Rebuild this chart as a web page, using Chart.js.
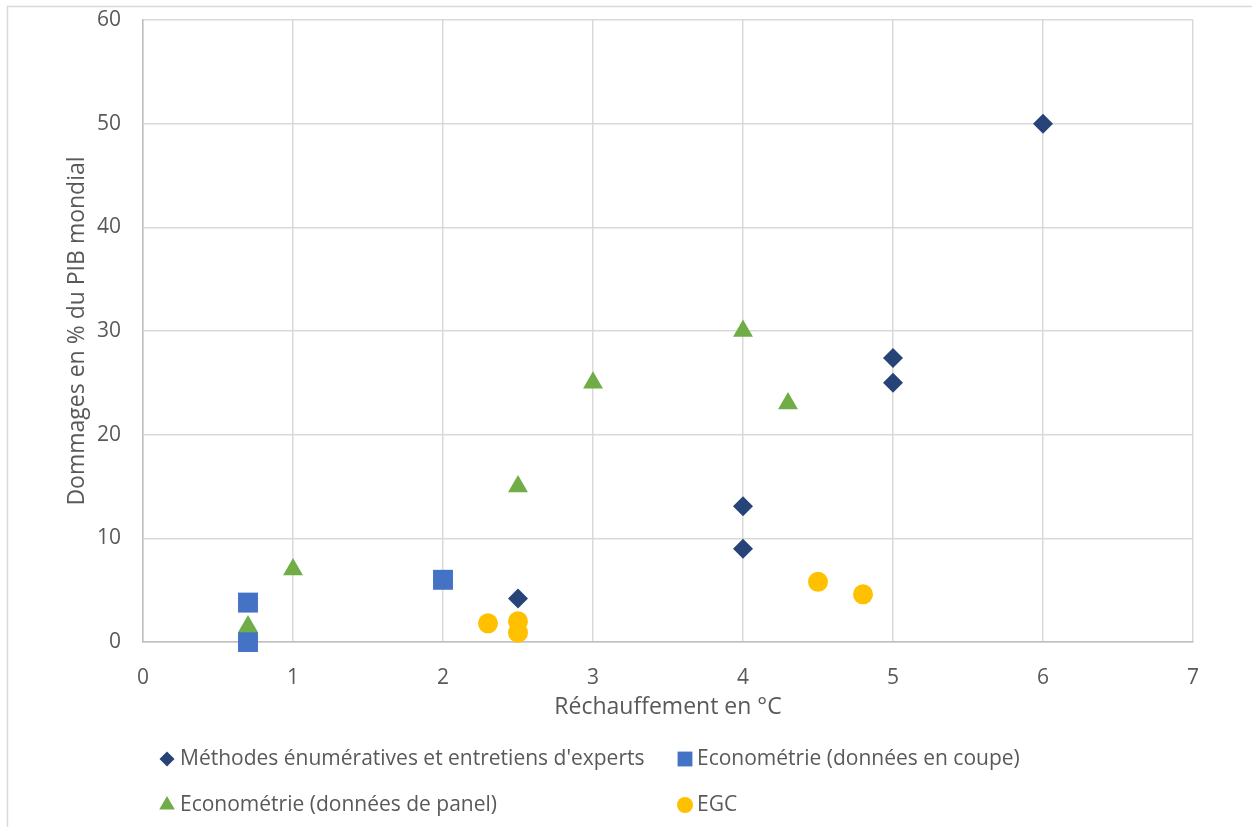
<!DOCTYPE html>
<html lang="fr">
<head>
<meta charset="utf-8">
<title>Dommages climatiques</title>
<script src="https://cdn.jsdelivr.net/npm/chart.js@4.4.1/dist/chart.umd.min.js"></script>
<style>
  html, body { margin: 0; padding: 0; background: #ffffff; }
  #wrap { position: relative; width: 1252px; height: 827px; }
  canvas { display: block; }
</style>
</head>
<body>
<div id="wrap"><canvas id="chart" width="1252" height="827"></canvas></div>
<script>
// Réchauffement (°C) et dommages (% du PIB mondial) par famille de méthodes
const enumX = [6, 5, 5, 4, 4, 2.5];
const enumY = [50, 27.4, 25, 13.1, 9, 4.2];

const coupeX = [0.7, 0.7, 2];
const coupeY = [3.8, 0, 6];

const panelX = [0.7, 1, 2.5, 3, 4, 4.3];
const panelY = [1.5, 7, 15, 25, 30, 23];

const egcX = [2.3, 2.5, 2.5, 4.5, 4.8];
const egcY = [1.8, 2, 0.9, 5.8, 4.6];

const seriesNames = [
  "Méthodes énumératives et entretiens d'experts",
  "Econométrie (données en coupe)",
  "Econométrie (données de panel)",
  "EGC"
];
const xTitle = "Réchauffement en °C";
const yTitle = "Dommages en % du PIB mondial";

const FONT = "'Open Sans', 'DejaVu Sans', sans-serif";
const TEXT = "#595959";

function toPoints(xs, ys) {
  return xs.map((x, i) => ({ x: x, y: ys[i] }));
}

const styles = [
  { color: "#264478", pointStyle: "rectRot", radius: 10, legendR: 7.5 },
  { color: "#4472C4", pointStyle: "rect", radius: 14.1, legendR: 10.5 },
  { color: "#70AD47", pointStyle: "triangle", radius: 11.5, legendR: 9 },
  { color: "#FFC000", pointStyle: "circle", radius: 10, legendR: 8 }
];
const series = [
  toPoints(enumX, enumY),
  toPoints(coupeX, coupeY),
  toPoints(panelX, panelY),
  toPoints(egcX, egcY)
];

// Outer frame of the chart object
const framePlugin = {
  id: "frame",
  beforeDraw(chart) {
    const ctx = chart.ctx;
    ctx.save();
    ctx.strokeStyle = "#d9d9d9";
    ctx.lineWidth = 1.5;
    ctx.beginPath();
    ctx.moveTo(7.5, chart.height);
    ctx.lineTo(7.5, 6.5);
    ctx.lineTo(chart.width, 6.5);
    ctx.stroke();
    ctx.restore();
  }
};

function drawMark(ctx, style, x, y, r) {
  if (style === "rectRot") {
    ctx.moveTo(x, y - r); ctx.lineTo(x + r, y); ctx.lineTo(x, y + r); ctx.lineTo(x - r, y); ctx.closePath();
  } else if (style === "rect") {
    const h = r * Math.SQRT1_2;
    ctx.rect(x - h, y - h, 2 * h, 2 * h);
  } else if (style === "triangle") {
    ctx.moveTo(x, y - r); ctx.lineTo(x + r * 0.866, y + r * 0.5); ctx.lineTo(x - r * 0.866, y + r * 0.5); ctx.closePath();
  } else {
    ctx.arc(x, y, r, 0, Math.PI * 2);
  }
}

// Two-column legend below the axis title
const gridLegend = {
  id: "gridLegend",
  afterDraw(chart) {
    const ctx = chart.ctx;
    const cols = [{ mark: 167, text: 180 }, { mark: 685, text: 697 }];
    const rows = [759, 805];
    ctx.save();
    ctx.font = "21px " + FONT;
    ctx.textBaseline = "middle";
    ctx.textAlign = "left";
    chart.data.datasets.forEach((ds, i) => {
      const c = cols[i % 2];
      const y = rows[Math.floor(i / 2)];
      ctx.fillStyle = ds.backgroundColor;
      ctx.beginPath();
      drawMark(ctx, ds.pointStyle, c.mark, y, styles[i].legendR);
      ctx.fill();
      ctx.fillStyle = TEXT;
      ctx.fillText(ds.label, c.text, y);
    });
    ctx.restore();
  }
};

new Chart(document.getElementById("chart"), {
  type: "scatter",
  data: {
    datasets: series.map((pts, i) => ({
      label: seriesNames[i],
      data: pts,
      pointStyle: styles[i].pointStyle,
      pointRadius: styles[i].radius,
      pointHoverRadius: styles[i].radius,
      backgroundColor: styles[i].color,
      borderColor: styles[i].color,
      borderWidth: 0,
      clip: false,
      order: 3 - i
    }))
  },
  options: {
    responsive: false,
    animation: false,
    events: [],
    layout: { padding: { left: 60, top: 20, right: 59, bottom: 102 } },
    plugins: { legend: { display: false }, tooltip: { enabled: false } },
    scales: {
      x: {
        type: "linear",
        min: 0, max: 7,
        ticks: { stepSize: 1, color: TEXT, font: { family: FONT, size: 21 }, padding: 23 },
        grid: { color: "#d9d9d9", lineWidth: 1.5, drawTicks: false },
        border: { color: "#bfbfbf", width: 1.5 },
        title: { display: true, text: xTitle, color: TEXT, font: { family: FONT, size: 23 }, padding: { top: 4, bottom: 4 } },
        afterFit(scale) { scale.height = 83; scale.paddingLeft = 0; scale.paddingRight = 0; }
      },
      y: {
        type: "linear",
        min: 0, max: 60,
        ticks: { stepSize: 10, color: TEXT, font: { family: FONT, size: 21 }, padding: 22 },
        grid: { color: "#d9d9d9", lineWidth: 1.5, drawTicks: false },
        border: { color: "#bfbfbf", width: 1.5 },
        title: { display: true, text: yTitle, color: TEXT, font: { family: FONT, size: 23 }, padding: { top: 4, bottom: 4 } },
        afterFit(scale) { scale.width = 83; scale.paddingTop = 0; scale.paddingBottom = 0; }
      }
    }
  },
  plugins: [framePlugin, gridLegend]
});
</script>
</body>
</html>
